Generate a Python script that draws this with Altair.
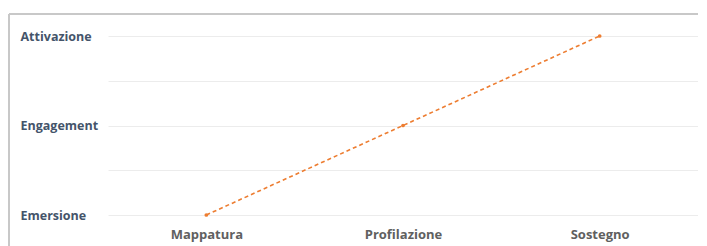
import altair as alt
import pandas as pd

phases = ["Mappatura", "Profilazione", "Sostegno"]
levels = [0, 1, 2]
level_names = ["Emersione", "Engagement", "Attivazione"]

df = pd.DataFrame({"fase": phases, "livello": levels})

label_expr = ("datum.value == 0 ? '" + level_names[0] + "' : datum.value == 1 ? '"
              + level_names[1] + "' : datum.value == 2 ? '" + level_names[2] + "' : ''")

base = alt.Chart(df).encode(
    x=alt.X("fase:N", sort=phases, title=None,
            axis=alt.Axis(labelAngle=0, domain=False, ticks=False, labelPadding=13,
                          labelFont="Open Sans", labelFontSize=13, labelFontWeight="bold",
                          labelColor="#606060", grid=False)),
    y=alt.Y("livello:Q", title=None, scale=alt.Scale(domain=[0, 2], nice=False),
            axis=alt.Axis(values=[0, 0.5, 1, 1.5, 2], labelExpr=label_expr,
                          domain=False, ticks=False, labelAlign="left", labelPadding=88,
                          labelFont="Open Sans", labelFontSize=12.5, labelFontWeight="bold",
                          labelColor="#44546A", grid=True, gridColor="#ececec", gridWidth=1)),
)

line = base.mark_line(color="#ED7D31", strokeDash=[4, 3], strokeWidth=1.6)
pts = base.mark_point(filled=True, color="#ED7D31", size=14, opacity=1)

frame_top = alt.Chart(df).mark_rule(color="#c8c8c8", strokeWidth=2).encode(
    x=alt.value(-99), x2=alt.value(590), y=alt.value(-22))
frame_left = alt.Chart(df).mark_rule(color="#c8c8c8", strokeWidth=2).encode(
    x=alt.value(-99), y=alt.value(-22), y2=alt.value(210))

chart = alt.layer(frame_top, frame_left, line, pts).properties(
    width=590, height=179,
    padding={"left": 100, "top": 28, "right": 0, "bottom": 31},
    autosize=alt.AutoSizeParams(type="none"),
).configure(background="white").configure_view(stroke=None)

chart.save("out.html", embed_options={"renderer": "svg", "actions": False})
